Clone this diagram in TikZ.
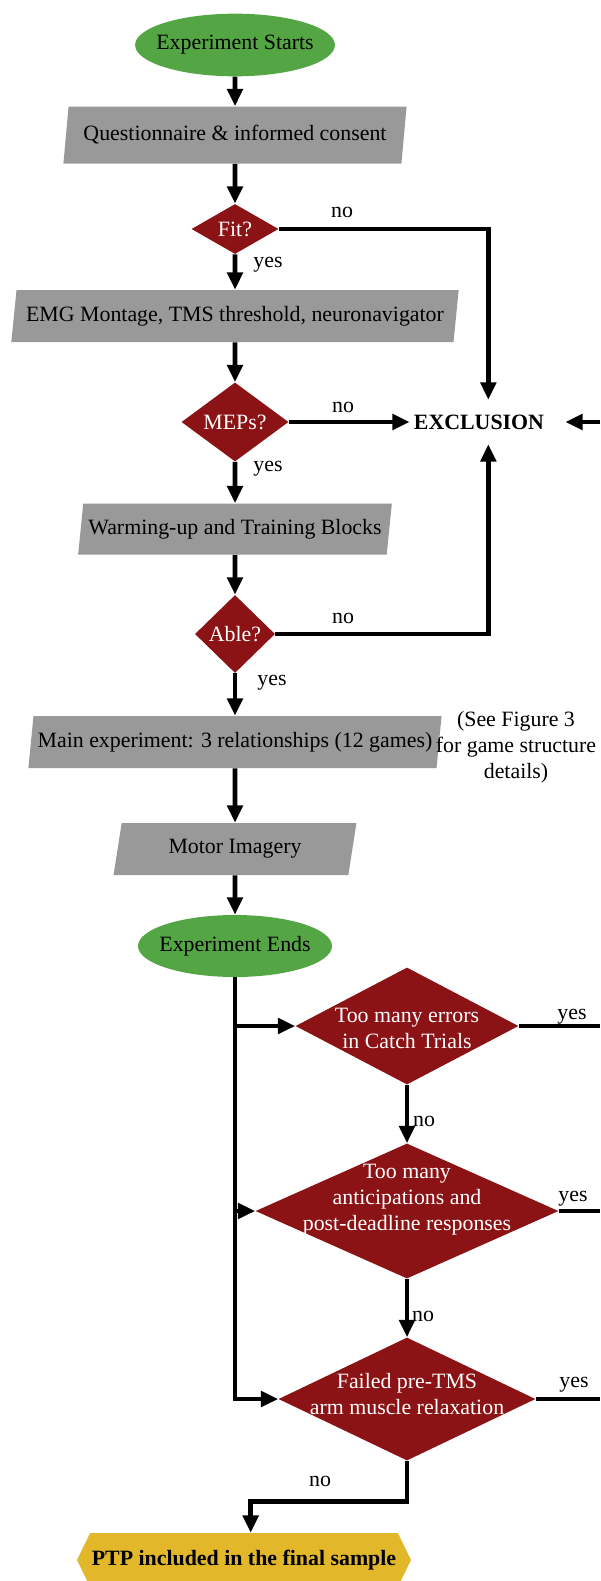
\documentclass[tikz,border=0pt]{standalone}
\usepackage{fontspec}
\setmainfont{Liberation Serif}
\usetikzlibrary{shapes.geometric}
\usetikzlibrary{shapes.symbols}
\usetikzlibrary{arrows.meta}
\definecolor{egreen}{RGB}{84,166,69}
\definecolor{pgray}{RGB}{153,153,153}
\definecolor{dred}{RGB}{139,19,21}
\definecolor{gold}{RGB}{226,183,41}
\tikzset{
  every node/.style={font=\fontsize{16.4}{19.5}\selectfont},
  terminal/.style={ellipse, fill=egreen, inner xsep=-6pt, inner ysep=0pt, minimum width=145.5pt, minimum height=47pt},
  io/.style={trapezium, trapezium left angle=76, trapezium right angle=104, trapezium stretches=true, fill=pgray, inner sep=0pt, minimum height=39pt},
  decision/.style={diamond, fill=dred, text=white, inner sep=0pt, align=center},
  dtext/.style={text=white, align=center},
  flow/.style={line width=3.5pt, -{Triangle[length=13pt,width=11.5pt]}},
  link/.style={line width=3.5pt},
}
\begin{document}
\begin{tikzpicture}[x=0.75pt, y=-0.75pt]
\clip (0,0) rectangle (600,1581);
\coordinate (redge) at (600,0);
\node[terminal] (start) at (235,45) {Experiment Starts};
\node[io, minimum width=258pt, minimum height=42.75pt] (quest) at (235,135) {Questionnaire \& informed consent};
\node[decision, minimum width=65.25pt, minimum height=37.5pt] (fit) at (235,229) {Fit?};
\node[io, minimum width=336pt] (emg) at (235,316) {EMG Montage, TMS threshold, neuronavigator};
\node[decision, minimum width=80.25pt, minimum height=59.25pt] (meps) at (235,422) {MEPs?};
\node[font=\fontsize{16.4}{19.5}\selectfont\bfseries, inner xsep=3pt, inner ysep=11pt] (excl) at (479,422) {EXCLUSION};
\node[io, minimum width=235.5pt, minimum height=38.25pt] (warm) at (235,529) {Warming-up and Training Blocks};
\node[decision, minimum width=60pt, minimum height=58.5pt] (able) at (235,634) {Able?};
\node[io, minimum width=311.25pt] (mainexp) at (235,742) {Main experiment: 3 relationships (12 games)};
\node[align=center] (note) at (516,747) {(See Figure 3\\for game structure\\details)};
\node[io, minimum width=182.25pt] (motor) at (235,849) {Motor Imagery};
\node[terminal, minimum height=46.5pt] (ends) at (235,946) {Experiment Ends};
\node[decision, minimum width=167.25pt, minimum height=87.75pt] (catch) at (407,1026) {};
\node[dtext] (catchtxt) at (407,1028) {Too many errors\\in Catch Trials};
\node[decision, minimum width=227.25pt, minimum height=101.25pt] (antic) at (407,1211) {};
\node[dtext] (antictxt) at (407,1200) {Too many\\anticipations and\\post-deadline responses};
\node[decision, minimum width=192.75pt, minimum height=92.25pt] (failed) at (407,1399) {};
\node[dtext] (failedtxt) at (407,1394) {Failed pre-TMS\\arm muscle relaxation};
\node[signal, signal to=west and east, signal pointer angle=128, fill=gold, inner sep=0pt, minimum width=250.5pt, minimum height=40.5pt, font=\fontsize{16.4}{19.5}\selectfont\bfseries] (ptp) at (244,1560) {PTP included in the final sample};
\draw[flow] (start) -- (quest);
\draw[flow] (quest) -- (fit);
\draw[flow] (fit) -- (emg);
\draw[flow] (emg) -- (meps);
\draw[flow] (meps) -- (warm);
\draw[flow] (warm) -- (able);
\draw[flow] (able) -- (mainexp);
\draw[flow] (mainexp) -- (motor);
\draw[flow] (motor) -- (ends);
\draw[flow] (fit.east) -| ([xshift=7pt]excl.north);
\draw[flow] (meps) -- (excl);
\draw[flow] (able.east) -| ([xshift=7pt]excl.south);
\draw[flow, shorten >=12.75pt] (redge |- excl) -- (excl);
\node (fitno) at (342,212) {no};
\node (fityes) at (268,265) {yes};
\node (mepsno) at (343,407) {no};
\node (mepsyes) at (268,469) {yes};
\node (ableno) at (343,618) {no};
\node (ableyes) at (272,683) {yes};
\draw[flow] (ends) |- (failed);
\draw[flow] (ends |- catch) -- (catch);
\draw[flow] (ends |- antic) -- (antic);
\draw[flow] (catch) -- (antic);
\draw[flow] (antic) -- (failed);
\draw[link] (catch) -- (catch -| redge);
\draw[link] (antic) -- (antic -| redge);
\draw[link] (failed) -- (failed -| redge);
\draw[flow] (failed.south) -- ++(0,41) -| ([xshift=5pt]ptp.north);
\node (catchyes) at (572,1017) {yes};
\node (catchno) at (424,1121) {no};
\node (anticyes) at (573,1199) {yes};
\node (anticno) at (423,1316) {no};
\node (failedyes) at (574,1385) {yes};
\node (failedno) at (320,1481) {no};
\end{tikzpicture}
\end{document}
